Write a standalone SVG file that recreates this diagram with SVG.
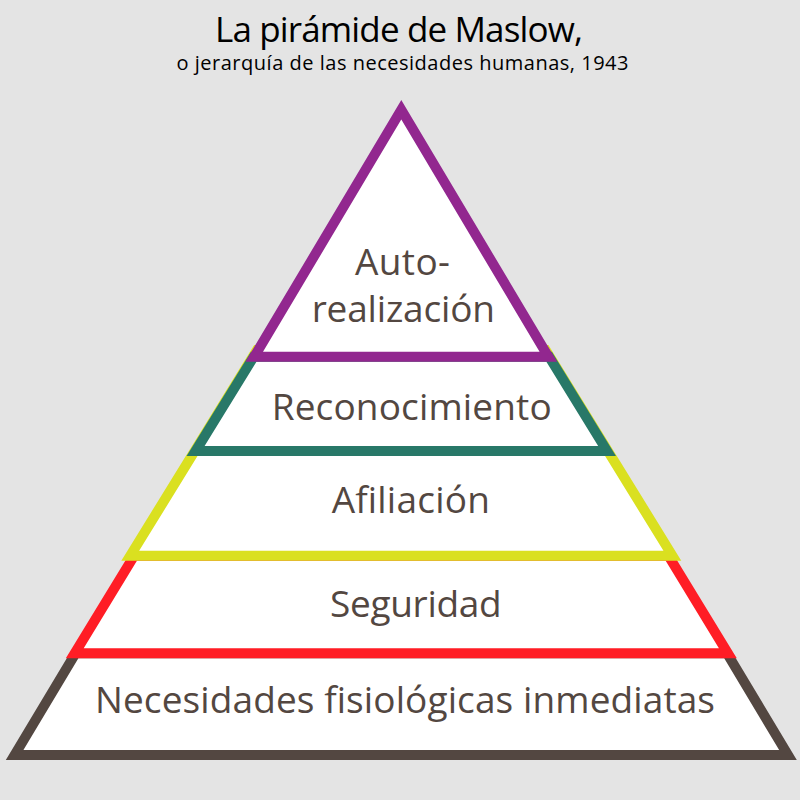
<svg xmlns="http://www.w3.org/2000/svg" width="800" height="800" viewBox="0 0 800 800">
  <style>
    .band { fill: #ffffff; stroke-width: 10; stroke-linejoin: miter; stroke-miterlimit: 10; }
    .title { font-family: "Open Sans", "Liberation Sans", sans-serif; fill: #000000; text-anchor: middle; }
    .label { font-family: "Open Sans", "Liberation Sans", sans-serif; font-size: 37px; fill: #534741; text-anchor: middle; }
  </style>
  <rect x="0" y="0" width="800" height="800" fill="#e4e4e4"/>

  <g id="title">
    <text class="title" x="399" y="41.7" font-size="35" textLength="368">La pirámide de Maslow,</text>
    <text class="title" x="402.5" y="70" font-size="20" textLength="452">o jerarquía de las necesidades humanas, 1943</text>
  </g>

  <g id="level-fisiologicas">
    <polygon class="band" stroke="#534741" points="75.63,653.3 726.97,653.3 787.97,755 14.63,755"/>
    <text class="label" x="405" y="713.3" textLength="620">Necesidades fisiológicas inmediatas</text>
  </g>

  <g id="level-seguridad">
    <polygon class="band" stroke="#ff1d25" points="134.21,555.7 668.39,555.7 727.89,653.3 74.71,653.3"/>
    <text class="label" x="415.8" y="616.7" textLength="171.7">Seguridad</text>
  </g>

  <g id="level-afiliacion">
    <polygon class="band" stroke="#dae020" points="256.96,350 545.64,350 672.35,555.7 130.25,555.7"/>
    <text class="label" x="410.8" y="513.3" textLength="158.3">Afiliación</text>
  </g>

  <g id="level-reconocimiento">
    <polygon class="band" stroke="#287868" points="253.77,356.7 549.07,356.7 607.03,451 195.57,451"/>
    <text class="label" x="411.7" y="420" textLength="280">Reconocimiento</text>
  </g>

  <g id="level-autorrealizacion">
    <polygon class="band" stroke="#92278f" points="401.3,109.8 548.35,356.7 254.25,356.7"/>
    <text class="label" x="402.5" y="275" textLength="95">Auto-</text>
    <text class="label" x="403.3" y="321.7" textLength="183.3">realización</text>
  </g>

  <g id="connectors"></g>
</svg>
